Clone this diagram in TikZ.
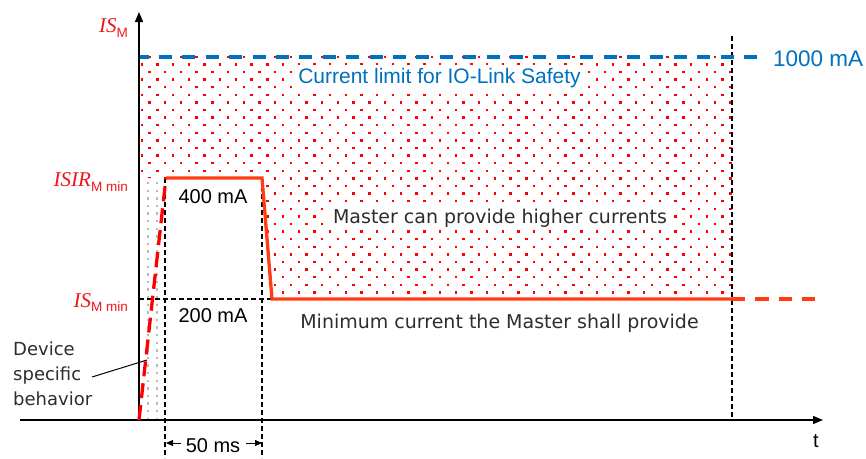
\documentclass[tikz,border=0pt]{standalone}
\usepackage{fontspec}
\setmainfont{Liberation Sans}
\newfontfamily\tahoma{DejaVu Sans}
\newfontfamily\timesfont{Liberation Serif}
\usetikzlibrary{arrows.meta}
\definecolor{limitblue}{RGB}{0,112,192}
\definecolor{pulsered}{RGB}{255,60,20}
\definecolor{dotred}{RGB}{255,0,0}
\definecolor{dotgrey}{RGB}{185,185,185}
\definecolor{notegrey}{RGB}{45,45,45}
\definecolor{labelred}{RGB}{240,20,30}

\begin{document}
\begin{tikzpicture}[x=1pt,y=-1pt,
  axisline/.style={line width=1.4pt, draw=black, -{Triangle[length=10pt,width=8pt]}},
  guide/.style={line width=1.2pt, draw=black, dash pattern=on 5pt off 3pt},
  pulse/.style={line width=3.3pt, draw=pulsered, line join=miter},
  pulsedash/.style={line width=3.3pt, draw=pulsered, dash pattern=on 13.3pt off 10pt},
  rampdash/.style={line width=3.3pt, draw=dotred, dash pattern=on 15pt off 7pt},
  limitdash/.style={line width=3.6pt, draw=limitblue, dash pattern=on 13pt off 10.4pt},
  dimarrow/.style={line width=1pt, -{Triangle[length=7pt,width=6pt]}},
  valtext/.style={inner sep=0pt, anchor=base, font=\fontsize{20}{24}\selectfont},
  notetext/.style={inner sep=0pt, text=notegrey, font=\tahoma\fontsize{19}{23}\selectfont},
  devtext/.style={inner sep=0pt, anchor=base west, text=notegrey, font=\tahoma\fontsize{18}{22}\selectfont},
  symlabel/.style={inner sep=0pt, anchor=base east, text=labelred, font=\timesfont\itshape\fontsize{21}{24}\selectfont},
]
\useasboundingbox (0,0) rectangle (866,458);

% key points of the current profile
\coordinate (o) at (139,420);
\coordinate (ytop) at (139,12);
\coordinate (xleft) at (20,420);
\coordinate (xright) at (823,420);
\coordinate (rampbot) at (139,420);
\coordinate (pulseA) at (166,178);
\coordinate (pulseB) at (262,178);
\coordinate (pulseC) at (272,299);
\coordinate (pulseD) at (732,299);
\coordinate (pulseE) at (818,299);

% red dotted area: currents the Master may deliver above the minimum
\begin{scope}
  \clip (139,50) -- (732,50) -- (732,298) -- (272,298) -- (262,178) -- (139,178) -- cycle;
  \foreach \j in {0,...,33} {
    \pgfmathsetmacro\off{mod(\j,2)*7.85}
    \foreach \i in {0,...,38} {
      \fill[dotred] (140.5+\off+\i*15.7, 48+\j*7.6) rectangle ++(2.4,2.4);
    }
  }
\end{scope}

% grey dotted strip: device specific ramp-up zone
\foreach \j in {0,...,31} {
  \fill[dotgrey] (147,182+\j*7.6) rectangle ++(2.4,2.4);
  \fill[dotgrey] (156,182+\j*7.6) rectangle ++(2.4,2.4);
}

% black dashed guides
\draw[guide] (165,178) -- (165,458);
\draw[guide] (262,178) -- (262,458);
\draw[guide] (732,36) -- (732,420);
\draw[guide] (139,299) -- (pulseC);

% current limit
\draw[limitdash] (757,57) -- (139,57);

% axes
\draw[axisline] (o) -- (ytop);
\draw[axisline] (xleft) -- (xright);

% current profile
\draw[rampdash] (rampbot) -- (pulseA);
\draw[pulse] (pulseA) -- (pulseB) -- (pulseC) -- (pulseD);
\draw[pulsedash] (pulseD) -- (pulseE);

% axis and level labels
\node[symlabel] (ism) at (128,32) {IS\raisebox{-5pt}{\normalfont\fontsize{13.5}{14}\selectfont M}};
\node[symlabel] (isir) at (128,186) {ISIR\raisebox{-5pt}{\normalfont\fontsize{13.5}{14}\selectfont M min}};
\node[symlabel] (ismin) at (128,307) {IS\raisebox{-4pt}{\normalfont\fontsize{13.5}{14}\selectfont M min}};
\node[valtext] (tlabel) at (816,447) {t};

\node[inner sep=0pt, anchor=base west, text=limitblue, font=\fontsize{22.5}{26}\selectfont] (limval) at (773,66) {1000 mA};
\node[inner xsep=4pt, inner ysep=3pt, fill=white, anchor=base, text=limitblue, font=\fontsize{21}{25}\selectfont] (limtext) at (439.5,83) {Current limit for IO-Link Safety};

\node[valtext] (v400) at (213,203) {400 mA};
\node[valtext] (v200) at (213,322) {200 mA};

\node[notetext, inner xsep=4pt, inner ysep=3pt, fill=white, anchor=base] (higher) at (500,223) {Master can provide higher currents};
\node[notetext, anchor=base] (minimum) at (499.5,328) {Minimum current the Master shall provide};

% device specific note with leader line
\node[devtext] (dev1) at (13,355) {Device};
\node[devtext] (dev2) at (13,380) {specific};
\node[devtext] (dev3) at (13,405) {behavior};
\coordinate (leadstart) at (92,377);
\coordinate (leadend) at (147,360);
\draw[line width=1pt] (leadstart) -- (leadend);

% 50 ms dimension
\node[valtext] (dur) at (213,452) {50 ms};
\coordinate (durL) at (166,443);
\coordinate (durR) at (262,443);
\draw[dimarrow] ([xshift=-5pt]dur.west |- durL) -- (durL);
\draw[dimarrow] ([xshift=6pt]dur.east |- durR) -- (durR);
\end{tikzpicture}
\end{document}
